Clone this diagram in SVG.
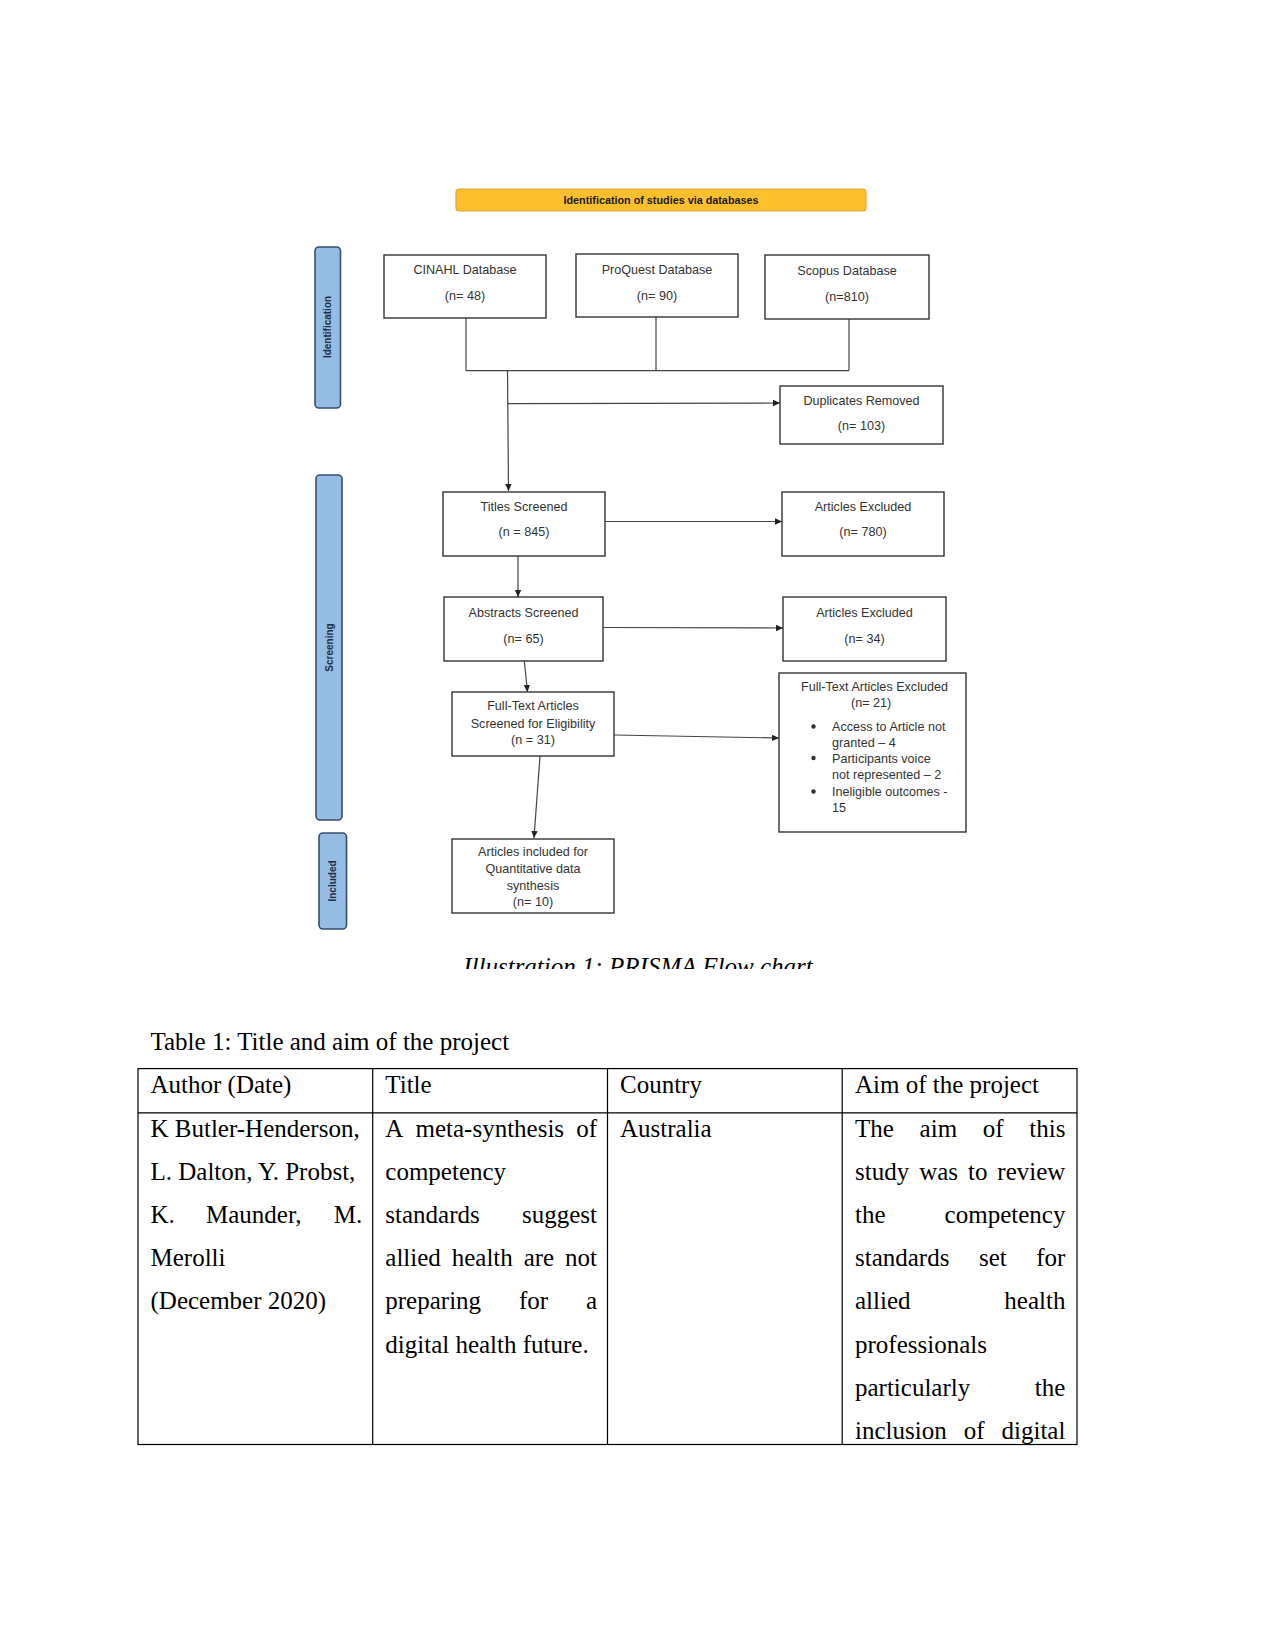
<svg xmlns="http://www.w3.org/2000/svg" width="1275" height="1651" viewBox="0 0 1275 1651">
<defs>
<marker id="arr" markerUnits="userSpaceOnUse" markerWidth="8" markerHeight="8" refX="7" refY="4" orient="auto">
<path d="M0,0.8 L7,4 L0,7.2 Z" fill="#222"/>
</marker>
<clipPath id="capclip"><rect x="0" y="940" width="1275" height="29"/></clipPath>
</defs>
<style>
.box{fill:#fff;stroke:#333;stroke-width:1.4}
.side{fill:#95BDE4;stroke:#34506E;stroke-width:1.6}
.bt{font-family:"Liberation Sans",Arial,sans-serif;font-size:12.6px;fill:#333;text-anchor:middle}
.bl{font-family:"Liberation Sans",Arial,sans-serif;font-size:12.6px;fill:#333}
.sl{font-family:"Liberation Sans",Arial,sans-serif;font-size:10px;font-weight:bold;fill:#1d2f45;text-anchor:middle}
.con{fill:none;stroke:#444;stroke-width:1.2}
.tt{font-family:"Liberation Serif","Times New Roman",serif;font-size:25px;fill:#000}
.te{font-family:"Liberation Serif","Times New Roman",serif;font-size:25px;fill:#000;text-anchor:end}
.tl{stroke:#000;stroke-width:1.2;fill:none}
</style>
<rect width="1275" height="1651" fill="#fff"/>

<g id="banner">
<rect x="456" y="189" width="410" height="22" rx="3" fill="#FDBF2D" stroke="#E5A43B" stroke-width="1.2"/>
<text x="661" y="203.5" font-family="'Liberation Sans',Arial,sans-serif" font-size="10.8px" font-weight="bold" fill="#1a1a1a" text-anchor="middle">Identification of studies via databases</text>
</g>

<g id="side-identification">
<rect class="side" x="315" y="247" width="25.5" height="161" rx="4"/>
<text class="sl" transform="translate(331.3,327) rotate(-90)">Identification</text>
</g>
<g id="side-screening">
<rect class="side" x="316" y="475" width="26" height="345" rx="4"/>
<text class="sl" transform="translate(332.8,647.5) rotate(-90)">Screening</text>
</g>
<g id="side-included">
<rect class="side" x="319" y="833" width="27.5" height="96" rx="4"/>
<text class="sl" transform="translate(336.3,881) rotate(-90)">Included</text>
</g>

<g id="connectors">
<path class="con" d="M466,318 V370.6 M656,317 V370.6 M849,319 V370.6 M466,370.6 H849"/>
<path class="con" d="M507.5,370.6 L508.5,491" marker-end="url(#arr)"/>
<path class="con" d="M507.5,403.7 L780,403" marker-end="url(#arr)"/>
<path class="con" d="M605,521.5 H782" marker-end="url(#arr)"/>
<path class="con" d="M518,556 V597" marker-end="url(#arr)"/>
<path class="con" d="M603,627.5 L783,628" marker-end="url(#arr)"/>
<path class="con" d="M524.3,661 L527.5,692" marker-end="url(#arr)"/>
<path class="con" d="M614,735 L779,738" marker-end="url(#arr)"/>
<path class="con" d="M540,756 L534,838" marker-end="url(#arr)"/>
</g>

<g id="cinahl">
<rect class="box" x="384" y="255" width="162" height="63"/>
<text class="bt" x="465" y="274">CINAHL Database</text>
<text class="bt" x="465" y="300">(n= 48)</text>
</g>
<g id="proquest">
<rect class="box" x="576" y="254" width="162" height="63"/>
<text class="bt" x="657" y="274">ProQuest Database</text>
<text class="bt" x="657" y="299.5">(n= 90)</text>
</g>
<g id="scopus">
<rect class="box" x="765" y="255" width="164" height="64"/>
<text class="bt" x="847" y="275">Scopus Database</text>
<text class="bt" x="847" y="300.5">(n=810)</text>
</g>
<g id="duplicates">
<rect class="box" x="780" y="386" width="163" height="58"/>
<text class="bt" x="861.5" y="404.5">Duplicates Removed</text>
<text class="bt" x="861.5" y="430">(n= 103)</text>
</g>
<g id="titles">
<rect class="box" x="443" y="492" width="162" height="64"/>
<text class="bt" x="524" y="511">Titles Screened</text>
<text class="bt" x="524" y="536">(n = 845)</text>
</g>
<g id="excluded1">
<rect class="box" x="782" y="492" width="162" height="64"/>
<text class="bt" x="863" y="511">Articles Excluded</text>
<text class="bt" x="863" y="536">(n= 780)</text>
</g>
<g id="abstracts">
<rect class="box" x="444" y="597" width="159" height="64"/>
<text class="bt" x="523.5" y="617">Abstracts Screened</text>
<text class="bt" x="523.5" y="642.5">(n= 65)</text>
</g>
<g id="excluded2">
<rect class="box" x="783" y="597" width="163" height="64"/>
<text class="bt" x="864.5" y="617">Articles Excluded</text>
<text class="bt" x="864.5" y="642.5">(n= 34)</text>
</g>
<g id="fulltext">
<rect class="box" x="452" y="692" width="162" height="64"/>
<text class="bt" x="533" y="710">Full-Text Articles</text>
<text class="bt" x="533" y="727.5">Screened for Eligibility</text>
<text class="bt" x="533" y="743.5">(n = 31)</text>
</g>
<g id="fulltext-excluded">
<rect class="box" x="779" y="673" width="187" height="159"/>
<text class="bl" x="801" y="690.5">Full-Text Articles Excluded</text>
<text class="bl" x="851" y="706.5">(n= 21)</text>
<circle cx="813.5" cy="726.5" r="2.2" fill="#333"/>
<circle cx="813.5" cy="758" r="2.2" fill="#333"/>
<circle cx="813.5" cy="791.5" r="2.2" fill="#333"/>
<text class="bl" x="832" y="731">Access to Article not</text>
<text class="bl" x="832" y="746.5">granted – 4</text>
<text class="bl" x="832" y="762.5">Participants voice</text>
<text class="bl" x="832" y="779">not represented – 2</text>
<text class="bl" x="832" y="795.5">Ineligible outcomes -</text>
<text class="bl" x="832" y="811.5">15</text>
</g>
<g id="included">
<rect class="box" x="452" y="839" width="162" height="74"/>
<text class="bt" x="533" y="856">Articles included for</text>
<text class="bt" x="533" y="873">Quantitative data</text>
<text class="bt" x="533" y="889.5">synthesis</text>
<text class="bt" x="533" y="906">(n= 10)</text>
</g>

<g id="caption" clip-path="url(#capclip)">
<text x="638" y="975" font-family="'Liberation Serif','Times New Roman',serif" font-style="italic" font-size="25px" fill="#000" text-anchor="middle">Illustration 1: PRISMA Flow chart</text>
</g>

<g id="table">
<text class="tt" x="150.5" y="1049.5">Table 1: Title and aim of the project</text>
<rect class="tl" x="138" y="1068.6" width="939" height="375.9"/>
<path class="tl" d="M138,1112.8 H1077 M372.7,1068.6 V1444.5 M607.5,1068.6 V1444.5 M842.2,1068.6 V1444.5"/>
<text class="tt" x="150.5" y="1093">Author (Date)</text>
<text class="tt" x="385.3" y="1093">Title</text>
<text class="tt" x="620" y="1093">Country</text>
<text class="tt" x="855" y="1093">Aim of the project</text>

<text class="tt" x="150.5" y="1136.6">K Butler-Henderson,</text>
<text class="tt" x="150.5" y="1179.8">L. Dalton, Y. Probst,</text>
<text class="tt" x="150.5" y="1223">K.</text>
<text class="tt" x="206" y="1223">Maunder,</text>
<text class="te" x="362.2" y="1223">M.</text>
<text class="tt" x="150.5" y="1266.2">Merolli</text>
<text class="tt" x="150.5" y="1309.4">(December 2020)</text>

<text class="tt" x="385.3" y="1136.6">A</text>
<text class="tt" x="415.5" y="1136.6">meta-synthesis</text>
<text class="te" x="597" y="1136.6">of</text>
<text class="tt" x="385.3" y="1179.8">competency</text>
<text class="tt" x="385.3" y="1223">standards</text>
<text class="te" x="597" y="1223">suggest</text>
<text class="tt" x="385.3" y="1266.2">allied</text>
<text class="tt" x="451.7" y="1266.2">health</text>
<text class="tt" x="523.7" y="1266.2">are</text>
<text class="te" x="597" y="1266.2">not</text>
<text class="tt" x="385.3" y="1309.4">preparing</text>
<text class="tt" x="518.9" y="1309.4">for</text>
<text class="te" x="597" y="1309.4">a</text>
<text class="tt" x="385.3" y="1352.6">digital health future.</text>

<text class="tt" x="620" y="1136.6">Australia</text>

<text class="tt" x="855" y="1136.6">The</text>
<text class="tt" x="919.6" y="1136.6">aim</text>
<text class="tt" x="982.8" y="1136.6">of</text>
<text class="te" x="1065.4" y="1136.6">this</text>
<text class="tt" x="855" y="1179.8">study</text>
<text class="tt" x="919.2" y="1179.8">was</text>
<text class="tt" x="968.1" y="1179.8">to</text>
<text class="te" x="1065.4" y="1179.8">review</text>
<text class="tt" x="855" y="1223">the</text>
<text class="te" x="1065.4" y="1223">competency</text>
<text class="tt" x="855" y="1266.2">standards</text>
<text class="tt" x="979" y="1266.2">set</text>
<text class="te" x="1065.4" y="1266.2">for</text>
<text class="tt" x="855" y="1309.4">allied</text>
<text class="te" x="1065.4" y="1309.4">health</text>
<text class="tt" x="855" y="1352.6">professionals</text>
<text class="tt" x="855" y="1395.8">particularly</text>
<text class="te" x="1065.4" y="1395.8">the</text>
<text class="tt" x="855" y="1439">inclusion</text>
<text class="tt" x="963.7" y="1439">of</text>
<text class="te" x="1065.4" y="1439">digital</text>
</g>
</svg>
